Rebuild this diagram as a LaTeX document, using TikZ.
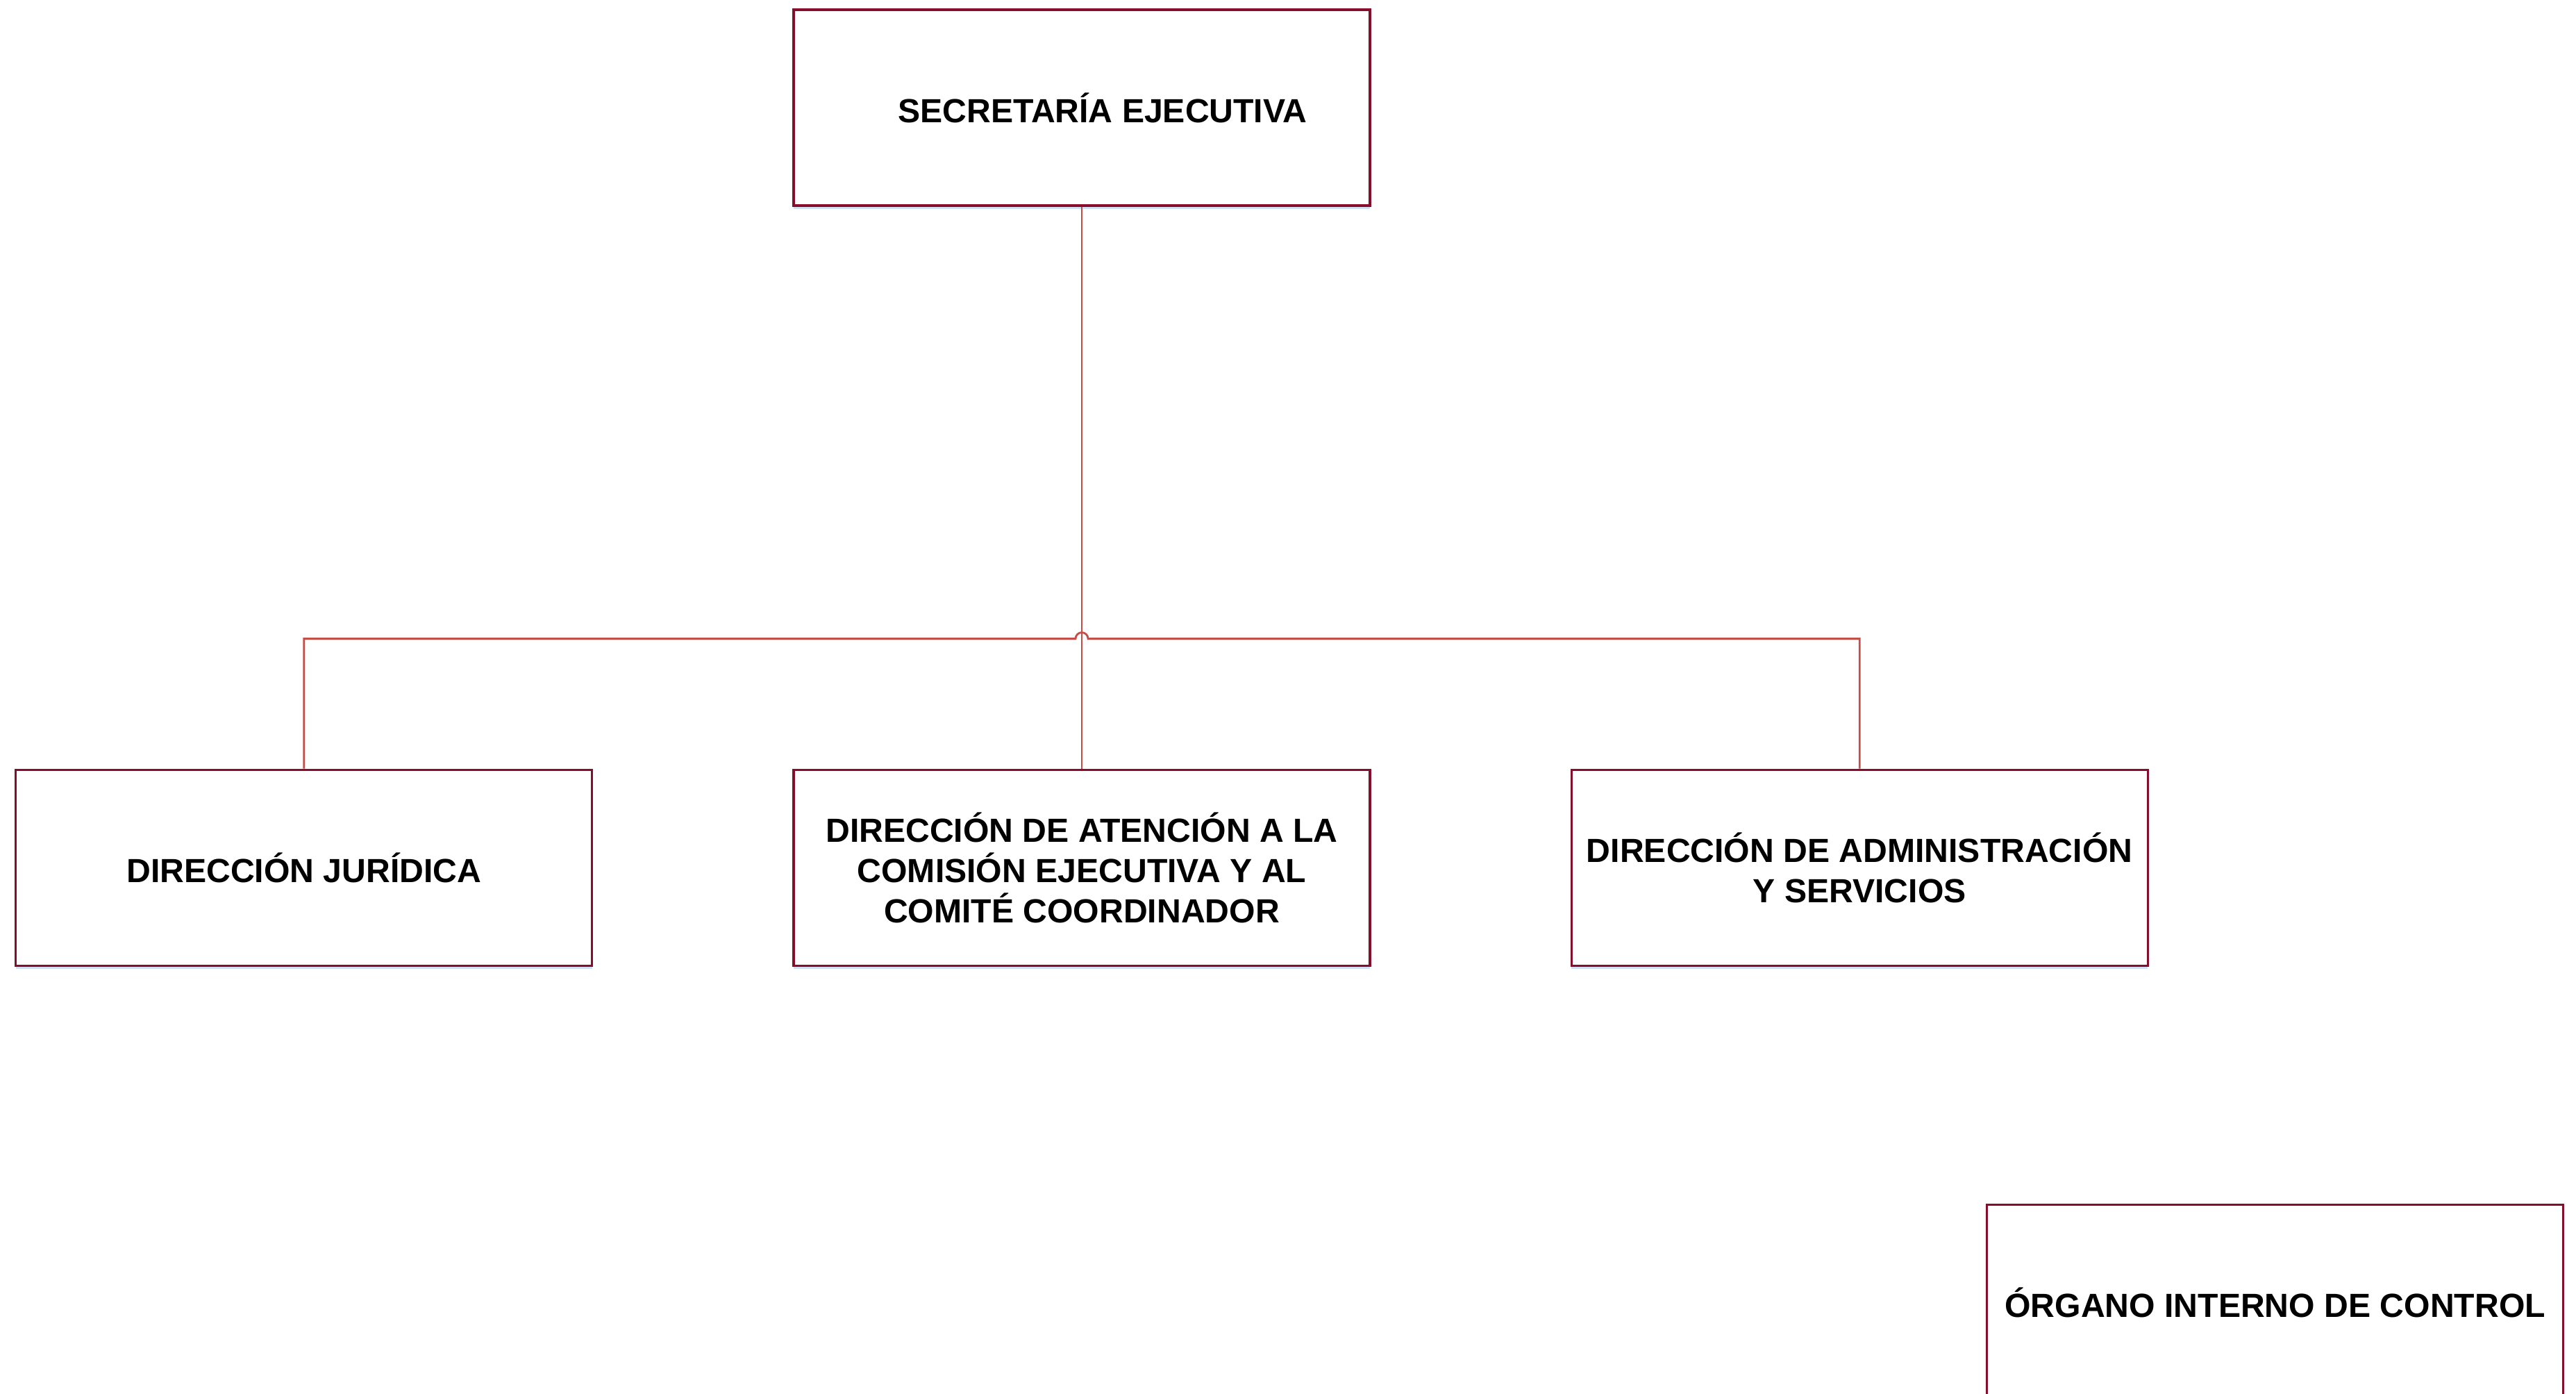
\documentclass[tikz,border=0pt]{standalone}
\usepackage{fontspec}
\setmainfont{Liberation Sans}
\usetikzlibrary{positioning,shadows}
\definecolor{bordeorg}{RGB}{134,14,44}
\definecolor{lineaorg}{RGB}{196,78,72}
\definecolor{sombraorg}{RGB}{196,218,240}
\tikzset{unidad/.style={draw=bordeorg,line width=0.9pt,fill=white,minimum width=8.3cm,minimum height=2.82cm,inner sep=0pt,align=center,
  font=\fontsize{13.7}{16.5}\selectfont\bfseries,
  drop shadow={shadow xshift=0pt,shadow yshift=-0.05cm,fill=sombraorg,opacity=0.8}}, % caja de cada area
enlace/.style={draw=lineaorg,line width=0.8pt} % lineas del organigrama
}

\begin{document}
\begin{tikzpicture}
    \useasboundingbox (0,0) rectangle (37.10,-20.06);
    \node[unidad] (SE) at (15.58,-1.55) {\hspace*{0.6cm}SECRETARÍA EJECUTIVA};
    \node[unidad,below=8.09cm of SE] (DAC) {DIRECCIÓN DE ATENCIÓN A LA\\COMISIÓN EJECUTIVA Y AL\\COMITÉ COORDINADOR};
    \node[unidad,left=2.87cm of DAC] (DJ) {DIRECCIÓN JURÍDICA};
    \node[unidad,right=2.87cm of DAC] (DAS) {DIRECCIÓN DE ADMINISTRACIÓN\\Y SERVICIOS};
    \node[unidad,below=3.41cm of DAS,xshift=5.985cm] (OIC) {ÓRGANO INTERNO DE CONTROL};

    \coordinate (salto) at ([yshift=1.87cm]DAC.north);
    \draw[enlace] (SE) -- (DAC);
    \draw[enlace] (DJ.north) |- ([xshift=-0.09cm]salto) arc[start angle=180,end angle=0,radius=0.09cm] -| (DAS.north);
\end{tikzpicture}
\end{document}
